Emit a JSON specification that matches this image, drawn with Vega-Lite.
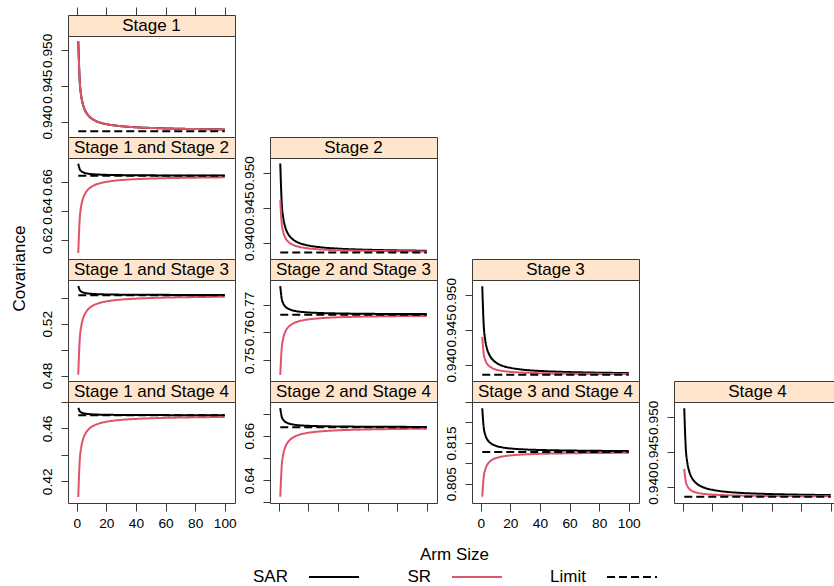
{
"$schema": "https://vega.github.io/schema/vega-lite/v6.json",
"padding": {"left": 9, "top": 6, "right": 0, "bottom": 0},
"datasets": {
"curves": [
{"p":"P11","s":"SAR","n":1,"v":0.9513},{"p":"P11","s":"SAR","n":2,"v":0.94569},{"p":"P11","s":"SAR","n":3,"v":0.94365},{"p":"P11","s":"SAR","n":4,"v":0.94258},{"p":"P11","s":"SAR","n":5,"v":0.94191},{"p":"P11","s":"SAR","n":6,"v":0.94145},{"p":"P11","s":"SAR","n":8,"v":0.94085},{"p":"P11","s":"SAR","n":10,"v":0.94048},{"p":"P11","s":"SAR","n":13,"v":0.94012},{"p":"P11","s":"SAR","n":16,"v":0.93989},{"p":"P11","s":"SAR","n":20,"v":0.93969},{"p":"P11","s":"SAR","n":25,"v":0.93952},{"p":"P11","s":"SAR","n":30,"v":0.9394},{"p":"P11","s":"SAR","n":40,"v":0.93925},{"p":"P11","s":"SAR","n":55,"v":0.93912},{"p":"P11","s":"SAR","n":75,"v":0.93902},{"p":"P11","s":"SAR","n":100,"v":0.93895},
{"p":"P11","s":"SR","n":1,"v":0.9513},{"p":"P11","s":"SR","n":2,"v":0.94569},{"p":"P11","s":"SR","n":3,"v":0.94365},{"p":"P11","s":"SR","n":4,"v":0.94258},{"p":"P11","s":"SR","n":5,"v":0.94191},{"p":"P11","s":"SR","n":6,"v":0.94145},{"p":"P11","s":"SR","n":8,"v":0.94085},{"p":"P11","s":"SR","n":10,"v":0.94048},{"p":"P11","s":"SR","n":13,"v":0.94012},{"p":"P11","s":"SR","n":16,"v":0.93989},{"p":"P11","s":"SR","n":20,"v":0.93969},{"p":"P11","s":"SR","n":25,"v":0.93952},{"p":"P11","s":"SR","n":30,"v":0.9394},{"p":"P11","s":"SR","n":40,"v":0.93925},{"p":"P11","s":"SR","n":55,"v":0.93912},{"p":"P11","s":"SR","n":75,"v":0.93902},{"p":"P11","s":"SR","n":100,"v":0.93895},
{"p":"P11","s":"Limit","n":1,"v":0.9387},{"p":"P11","s":"Limit","n":100,"v":0.9387},
{"p":"P12","s":"SAR","n":1,"v":0.6724},{"p":"P12","s":"SAR","n":2,"v":0.66875},{"p":"P12","s":"SAR","n":3,"v":0.66742},{"p":"P12","s":"SAR","n":4,"v":0.66672},{"p":"P12","s":"SAR","n":5,"v":0.66629},{"p":"P12","s":"SAR","n":6,"v":0.66599},{"p":"P12","s":"SAR","n":8,"v":0.6656},{"p":"P12","s":"SAR","n":10,"v":0.66536},{"p":"P12","s":"SAR","n":13,"v":0.66513},{"p":"P12","s":"SAR","n":16,"v":0.66498},{"p":"P12","s":"SAR","n":20,"v":0.66484},{"p":"P12","s":"SAR","n":25,"v":0.66473},{"p":"P12","s":"SAR","n":30,"v":0.66466},{"p":"P12","s":"SAR","n":40,"v":0.66456},{"p":"P12","s":"SAR","n":55,"v":0.66447},{"p":"P12","s":"SAR","n":75,"v":0.66441},{"p":"P12","s":"SAR","n":100,"v":0.66436},
{"p":"P12","s":"SR","n":1,"v":0.6112},{"p":"P12","s":"SR","n":2,"v":0.6348},{"p":"P12","s":"SR","n":3,"v":0.64337},{"p":"P12","s":"SR","n":4,"v":0.64789},{"p":"P12","s":"SR","n":5,"v":0.65071},{"p":"P12","s":"SR","n":6,"v":0.65264},{"p":"P12","s":"SR","n":8,"v":0.65515},{"p":"P12","s":"SR","n":10,"v":0.65671},{"p":"P12","s":"SR","n":13,"v":0.65821},{"p":"P12","s":"SR","n":16,"v":0.65918},{"p":"P12","s":"SR","n":20,"v":0.66004},{"p":"P12","s":"SR","n":25,"v":0.66077},{"p":"P12","s":"SR","n":30,"v":0.66126},{"p":"P12","s":"SR","n":40,"v":0.66189},{"p":"P12","s":"SR","n":55,"v":0.66244},{"p":"P12","s":"SR","n":75,"v":0.66285},{"p":"P12","s":"SR","n":100,"v":0.66314},
{"p":"P12","s":"Limit","n":1,"v":0.6642},{"p":"P12","s":"Limit","n":100,"v":0.6642},
{"p":"P13","s":"SAR","n":1,"v":0.5492},{"p":"P13","s":"SAR","n":2,"v":0.54604},{"p":"P13","s":"SAR","n":3,"v":0.54489},{"p":"P13","s":"SAR","n":4,"v":0.54429},{"p":"P13","s":"SAR","n":5,"v":0.54391},{"p":"P13","s":"SAR","n":6,"v":0.54365},{"p":"P13","s":"SAR","n":8,"v":0.54331},{"p":"P13","s":"SAR","n":10,"v":0.5431},{"p":"P13","s":"SAR","n":13,"v":0.5429},{"p":"P13","s":"SAR","n":16,"v":0.54277},{"p":"P13","s":"SAR","n":20,"v":0.54266},{"p":"P13","s":"SAR","n":25,"v":0.54256},{"p":"P13","s":"SAR","n":30,"v":0.54249},{"p":"P13","s":"SAR","n":40,"v":0.54241},{"p":"P13","s":"SAR","n":55,"v":0.54234},{"p":"P13","s":"SAR","n":75,"v":0.54228},{"p":"P13","s":"SAR","n":100,"v":0.54224},
{"p":"P13","s":"SR","n":1,"v":0.4806},{"p":"P13","s":"SR","n":2,"v":0.50798},{"p":"P13","s":"SR","n":3,"v":0.51792},{"p":"P13","s":"SR","n":4,"v":0.52317},{"p":"P13","s":"SR","n":5,"v":0.52644},{"p":"P13","s":"SR","n":6,"v":0.52869},{"p":"P13","s":"SR","n":8,"v":0.5316},{"p":"P13","s":"SR","n":10,"v":0.53341},{"p":"P13","s":"SR","n":13,"v":0.53515},{"p":"P13","s":"SR","n":16,"v":0.53628},{"p":"P13","s":"SR","n":20,"v":0.53728},{"p":"P13","s":"SR","n":25,"v":0.53811},{"p":"P13","s":"SR","n":30,"v":0.53869},{"p":"P13","s":"SR","n":40,"v":0.53942},{"p":"P13","s":"SR","n":55,"v":0.54006},{"p":"P13","s":"SR","n":75,"v":0.54053},{"p":"P13","s":"SR","n":100,"v":0.54087},
{"p":"P13","s":"Limit","n":1,"v":0.5421},{"p":"P13","s":"Limit","n":100,"v":0.5421},
{"p":"P14","s":"SAR","n":1,"v":0.4755},{"p":"P14","s":"SAR","n":2,"v":0.47301},{"p":"P14","s":"SAR","n":3,"v":0.4721},{"p":"P14","s":"SAR","n":4,"v":0.47162},{"p":"P14","s":"SAR","n":5,"v":0.47133},{"p":"P14","s":"SAR","n":6,"v":0.47112},{"p":"P14","s":"SAR","n":8,"v":0.47086},{"p":"P14","s":"SAR","n":10,"v":0.47069},{"p":"P14","s":"SAR","n":13,"v":0.47053},{"p":"P14","s":"SAR","n":16,"v":0.47043},{"p":"P14","s":"SAR","n":20,"v":0.47034},{"p":"P14","s":"SAR","n":25,"v":0.47026},{"p":"P14","s":"SAR","n":30,"v":0.47021},{"p":"P14","s":"SAR","n":40,"v":0.47014},{"p":"P14","s":"SAR","n":55,"v":0.47009},{"p":"P14","s":"SAR","n":75,"v":0.47004},{"p":"P14","s":"SAR","n":100,"v":0.47001},
{"p":"P14","s":"SR","n":1,"v":0.4082},{"p":"P14","s":"SR","n":2,"v":0.43567},{"p":"P14","s":"SR","n":3,"v":0.44565},{"p":"P14","s":"SR","n":4,"v":0.45091},{"p":"P14","s":"SR","n":5,"v":0.45419},{"p":"P14","s":"SR","n":6,"v":0.45644},{"p":"P14","s":"SR","n":8,"v":0.45936},{"p":"P14","s":"SR","n":10,"v":0.46118},{"p":"P14","s":"SR","n":13,"v":0.46293},{"p":"P14","s":"SR","n":16,"v":0.46406},{"p":"P14","s":"SR","n":20,"v":0.46506},{"p":"P14","s":"SR","n":25,"v":0.4659},{"p":"P14","s":"SR","n":30,"v":0.46648},{"p":"P14","s":"SR","n":40,"v":0.46722},{"p":"P14","s":"SR","n":55,"v":0.46785},{"p":"P14","s":"SR","n":75,"v":0.46833},{"p":"P14","s":"SR","n":100,"v":0.46867},
{"p":"P14","s":"Limit","n":1,"v":0.4699},{"p":"P14","s":"Limit","n":100,"v":0.4699},
{"p":"P22","s":"SAR","n":1,"v":0.9513},{"p":"P22","s":"SAR","n":2,"v":0.94569},{"p":"P22","s":"SAR","n":3,"v":0.94365},{"p":"P22","s":"SAR","n":4,"v":0.94258},{"p":"P22","s":"SAR","n":5,"v":0.94191},{"p":"P22","s":"SAR","n":6,"v":0.94145},{"p":"P22","s":"SAR","n":8,"v":0.94085},{"p":"P22","s":"SAR","n":10,"v":0.94048},{"p":"P22","s":"SAR","n":13,"v":0.94012},{"p":"P22","s":"SAR","n":16,"v":0.93989},{"p":"P22","s":"SAR","n":20,"v":0.93969},{"p":"P22","s":"SAR","n":25,"v":0.93952},{"p":"P22","s":"SAR","n":30,"v":0.9394},{"p":"P22","s":"SAR","n":40,"v":0.93925},{"p":"P22","s":"SAR","n":55,"v":0.93912},{"p":"P22","s":"SAR","n":75,"v":0.93902},{"p":"P22","s":"SAR","n":100,"v":0.93895},
{"p":"P22","s":"SR","n":1,"v":0.9461},{"p":"P22","s":"SR","n":2,"v":0.94281},{"p":"P22","s":"SR","n":3,"v":0.94161},{"p":"P22","s":"SR","n":4,"v":0.94098},{"p":"P22","s":"SR","n":5,"v":0.94058},{"p":"P22","s":"SR","n":6,"v":0.94031},{"p":"P22","s":"SR","n":8,"v":0.93996},{"p":"P22","s":"SR","n":10,"v":0.93975},{"p":"P22","s":"SR","n":13,"v":0.93954},{"p":"P22","s":"SR","n":16,"v":0.9394},{"p":"P22","s":"SR","n":20,"v":0.93928},{"p":"P22","s":"SR","n":25,"v":0.93918},{"p":"P22","s":"SR","n":30,"v":0.93911},{"p":"P22","s":"SR","n":40,"v":0.93902},{"p":"P22","s":"SR","n":55,"v":0.93895},{"p":"P22","s":"SR","n":75,"v":0.93889},{"p":"P22","s":"SR","n":100,"v":0.93885},
{"p":"P22","s":"Limit","n":1,"v":0.9387},{"p":"P22","s":"Limit","n":100,"v":0.9387},
{"p":"P23","s":"SAR","n":1,"v":0.7767},{"p":"P23","s":"SAR","n":2,"v":0.77211},{"p":"P23","s":"SAR","n":3,"v":0.77045},{"p":"P23","s":"SAR","n":4,"v":0.76957},{"p":"P23","s":"SAR","n":5,"v":0.76902},{"p":"P23","s":"SAR","n":6,"v":0.76865},{"p":"P23","s":"SAR","n":8,"v":0.76816},{"p":"P23","s":"SAR","n":10,"v":0.76786},{"p":"P23","s":"SAR","n":13,"v":0.76756},{"p":"P23","s":"SAR","n":16,"v":0.76738},{"p":"P23","s":"SAR","n":20,"v":0.76721},{"p":"P23","s":"SAR","n":25,"v":0.76707},{"p":"P23","s":"SAR","n":30,"v":0.76697},{"p":"P23","s":"SAR","n":40,"v":0.76685},{"p":"P23","s":"SAR","n":55,"v":0.76674},{"p":"P23","s":"SAR","n":75,"v":0.76666},{"p":"P23","s":"SAR","n":100,"v":0.76661},
{"p":"P23","s":"SR","n":1,"v":0.7447},{"p":"P23","s":"SR","n":2,"v":0.75436},{"p":"P23","s":"SR","n":3,"v":0.75787},{"p":"P23","s":"SR","n":4,"v":0.75972},{"p":"P23","s":"SR","n":5,"v":0.76088},{"p":"P23","s":"SR","n":6,"v":0.76167},{"p":"P23","s":"SR","n":8,"v":0.76269},{"p":"P23","s":"SR","n":10,"v":0.76333},{"p":"P23","s":"SR","n":13,"v":0.76395},{"p":"P23","s":"SR","n":16,"v":0.76435},{"p":"P23","s":"SR","n":20,"v":0.7647},{"p":"P23","s":"SR","n":25,"v":0.76499},{"p":"P23","s":"SR","n":30,"v":0.7652},{"p":"P23","s":"SR","n":40,"v":0.76546},{"p":"P23","s":"SR","n":55,"v":0.76568},{"p":"P23","s":"SR","n":75,"v":0.76585},{"p":"P23","s":"SR","n":100,"v":0.76597},
{"p":"P23","s":"Limit","n":1,"v":0.7664},{"p":"P23","s":"Limit","n":100,"v":0.7664},
{"p":"P24","s":"SAR","n":1,"v":0.6724},{"p":"P24","s":"SAR","n":2,"v":0.66857},{"p":"P24","s":"SAR","n":3,"v":0.66718},{"p":"P24","s":"SAR","n":4,"v":0.66645},{"p":"P24","s":"SAR","n":5,"v":0.66599},{"p":"P24","s":"SAR","n":6,"v":0.66568},{"p":"P24","s":"SAR","n":8,"v":0.66527},{"p":"P24","s":"SAR","n":10,"v":0.66502},{"p":"P24","s":"SAR","n":13,"v":0.66477},{"p":"P24","s":"SAR","n":16,"v":0.66461},{"p":"P24","s":"SAR","n":20,"v":0.66447},{"p":"P24","s":"SAR","n":25,"v":0.66436},{"p":"P24","s":"SAR","n":30,"v":0.66428},{"p":"P24","s":"SAR","n":40,"v":0.66417},{"p":"P24","s":"SAR","n":55,"v":0.66409},{"p":"P24","s":"SAR","n":75,"v":0.66402},{"p":"P24","s":"SAR","n":100,"v":0.66397},
{"p":"P24","s":"SR","n":1,"v":0.6325},{"p":"P24","s":"SR","n":2,"v":0.64643},{"p":"P24","s":"SR","n":3,"v":0.6515},{"p":"P24","s":"SR","n":4,"v":0.65417},{"p":"P24","s":"SR","n":5,"v":0.65583},{"p":"P24","s":"SR","n":6,"v":0.65697},{"p":"P24","s":"SR","n":8,"v":0.65845},{"p":"P24","s":"SR","n":10,"v":0.65938},{"p":"P24","s":"SR","n":13,"v":0.66026},{"p":"P24","s":"SR","n":16,"v":0.66084},{"p":"P24","s":"SR","n":20,"v":0.66135},{"p":"P24","s":"SR","n":25,"v":0.66177},{"p":"P24","s":"SR","n":30,"v":0.66206},{"p":"P24","s":"SR","n":40,"v":0.66244},{"p":"P24","s":"SR","n":55,"v":0.66276},{"p":"P24","s":"SR","n":75,"v":0.663},{"p":"P24","s":"SR","n":100,"v":0.66317},
{"p":"P24","s":"Limit","n":1,"v":0.6638},{"p":"P24","s":"Limit","n":100,"v":0.6638},
{"p":"P33","s":"SAR","n":1,"v":0.9512},{"p":"P33","s":"SAR","n":2,"v":0.94559},{"p":"P33","s":"SAR","n":3,"v":0.94355},{"p":"P33","s":"SAR","n":4,"v":0.94248},{"p":"P33","s":"SAR","n":5,"v":0.94181},{"p":"P33","s":"SAR","n":6,"v":0.94135},{"p":"P33","s":"SAR","n":8,"v":0.94075},{"p":"P33","s":"SAR","n":10,"v":0.94038},{"p":"P33","s":"SAR","n":13,"v":0.94002},{"p":"P33","s":"SAR","n":16,"v":0.93979},{"p":"P33","s":"SAR","n":20,"v":0.93959},{"p":"P33","s":"SAR","n":25,"v":0.93942},{"p":"P33","s":"SAR","n":30,"v":0.9393},{"p":"P33","s":"SAR","n":40,"v":0.93915},{"p":"P33","s":"SAR","n":55,"v":0.93902},{"p":"P33","s":"SAR","n":75,"v":0.93892},{"p":"P33","s":"SAR","n":100,"v":0.93885},
{"p":"P33","s":"SR","n":1,"v":0.944},{"p":"P33","s":"SR","n":2,"v":0.9416},{"p":"P33","s":"SR","n":3,"v":0.94072},{"p":"P33","s":"SR","n":4,"v":0.94026},{"p":"P33","s":"SR","n":5,"v":0.93997},{"p":"P33","s":"SR","n":6,"v":0.93978},{"p":"P33","s":"SR","n":8,"v":0.93952},{"p":"P33","s":"SR","n":10,"v":0.93936},{"p":"P33","s":"SR","n":13,"v":0.93921},{"p":"P33","s":"SR","n":16,"v":0.93911},{"p":"P33","s":"SR","n":20,"v":0.93902},{"p":"P33","s":"SR","n":25,"v":0.93895},{"p":"P33","s":"SR","n":30,"v":0.9389},{"p":"P33","s":"SR","n":40,"v":0.93883},{"p":"P33","s":"SR","n":55,"v":0.93878},{"p":"P33","s":"SR","n":75,"v":0.93874},{"p":"P33","s":"SR","n":100,"v":0.93871},
{"p":"P33","s":"Limit","n":1,"v":0.9386},{"p":"P33","s":"Limit","n":100,"v":0.9386},
{"p":"P34","s":"SAR","n":1,"v":0.8235},{"p":"P34","s":"SAR","n":2,"v":0.81874},{"p":"P34","s":"SAR","n":3,"v":0.81701},{"p":"P34","s":"SAR","n":4,"v":0.81609},{"p":"P34","s":"SAR","n":5,"v":0.81552},{"p":"P34","s":"SAR","n":6,"v":0.81513},{"p":"P34","s":"SAR","n":8,"v":0.81463},{"p":"P34","s":"SAR","n":10,"v":0.81431},{"p":"P34","s":"SAR","n":13,"v":0.81401},{"p":"P34","s":"SAR","n":16,"v":0.81381},{"p":"P34","s":"SAR","n":20,"v":0.81364},{"p":"P34","s":"SAR","n":25,"v":0.81349},{"p":"P34","s":"SAR","n":30,"v":0.81339},{"p":"P34","s":"SAR","n":40,"v":0.81327},{"p":"P34","s":"SAR","n":55,"v":0.81316},{"p":"P34","s":"SAR","n":75,"v":0.81307},{"p":"P34","s":"SAR","n":100,"v":0.81301},
{"p":"P34","s":"SR","n":1,"v":0.8018},{"p":"P34","s":"SR","n":2,"v":0.8067},{"p":"P34","s":"SR","n":3,"v":0.80848},{"p":"P34","s":"SR","n":4,"v":0.80941},{"p":"P34","s":"SR","n":5,"v":0.81},{"p":"P34","s":"SR","n":6,"v":0.8104},{"p":"P34","s":"SR","n":8,"v":0.81092},{"p":"P34","s":"SR","n":10,"v":0.81125},{"p":"P34","s":"SR","n":13,"v":0.81156},{"p":"P34","s":"SR","n":16,"v":0.81176},{"p":"P34","s":"SR","n":20,"v":0.81194},{"p":"P34","s":"SR","n":25,"v":0.81209},{"p":"P34","s":"SR","n":30,"v":0.81219},{"p":"P34","s":"SR","n":40,"v":0.81232},{"p":"P34","s":"SR","n":55,"v":0.81243},{"p":"P34","s":"SR","n":75,"v":0.81252},{"p":"P34","s":"SR","n":100,"v":0.81258},
{"p":"P34","s":"Limit","n":1,"v":0.8128},{"p":"P34","s":"Limit","n":100,"v":0.8128},
{"p":"P44","s":"SAR","n":1,"v":0.9513},{"p":"P44","s":"SAR","n":2,"v":0.94565},{"p":"P44","s":"SAR","n":3,"v":0.94359},{"p":"P44","s":"SAR","n":4,"v":0.94251},{"p":"P44","s":"SAR","n":5,"v":0.94183},{"p":"P44","s":"SAR","n":6,"v":0.94137},{"p":"P44","s":"SAR","n":8,"v":0.94077},{"p":"P44","s":"SAR","n":10,"v":0.94039},{"p":"P44","s":"SAR","n":13,"v":0.94004},{"p":"P44","s":"SAR","n":16,"v":0.9398},{"p":"P44","s":"SAR","n":20,"v":0.9396},{"p":"P44","s":"SAR","n":25,"v":0.93942},{"p":"P44","s":"SAR","n":30,"v":0.9393},{"p":"P44","s":"SAR","n":40,"v":0.93915},{"p":"P44","s":"SAR","n":55,"v":0.93902},{"p":"P44","s":"SAR","n":75,"v":0.93892},{"p":"P44","s":"SAR","n":100,"v":0.93885},
{"p":"P44","s":"SR","n":1,"v":0.9426},{"p":"P44","s":"SR","n":2,"v":0.94082},{"p":"P44","s":"SR","n":3,"v":0.94017},{"p":"P44","s":"SR","n":4,"v":0.93983},{"p":"P44","s":"SR","n":5,"v":0.93962},{"p":"P44","s":"SR","n":6,"v":0.93947},{"p":"P44","s":"SR","n":8,"v":0.93928},{"p":"P44","s":"SR","n":10,"v":0.93917},{"p":"P44","s":"SR","n":13,"v":0.93905},{"p":"P44","s":"SR","n":16,"v":0.93898},{"p":"P44","s":"SR","n":20,"v":0.93891},{"p":"P44","s":"SR","n":25,"v":0.93886},{"p":"P44","s":"SR","n":30,"v":0.93882},{"p":"P44","s":"SR","n":40,"v":0.93877},{"p":"P44","s":"SR","n":55,"v":0.93873},{"p":"P44","s":"SR","n":75,"v":0.9387},{"p":"P44","s":"SR","n":100,"v":0.93868},
{"p":"P44","s":"Limit","n":1,"v":0.9386},{"p":"P44","s":"Limit","n":100,"v":0.9386}
]
},
"columns": 4,
"spacing": {"row": 0, "column": 35},
"bounds": "flush",
"align": "each",
"concat": [
 {"width":167,"height":21,"view":{"fill":"#FFE5CC","stroke":"#3a3a3a"},"data":{"values":[{"label":"Stage 1"}]},"mark":{"type":"text","fontSize":17},
  "encoding":{"x":{"datum":50.5,"type":"quantitative","scale":{"domain":[-5.93,106.93],"nice":false,"zero":false},"axis":{"orient":"top","values":[0,20,40,60,80,100],"labels":false,"tickSize":8,"title":null}},"text":{"field":"label","type":"nominal"}}},
 {"width":167,"height":21,"view":{"stroke":null},"data":{"values":[{"label":""}]},"mark":"text","encoding":{"text":{"field":"label","type":"nominal"}}},
 {"width":167,"height":21,"view":{"stroke":null},"data":{"values":[{"label":""}]},"mark":"text","encoding":{"text":{"field":"label","type":"nominal"}}},
 {"width":167,"height":21,"view":{"stroke":null},"data":{"values":[{"label":""}]},"mark":"text","encoding":{"text":{"field":"label","type":"nominal"}}},

 {"width":167,"height":101,"data":{"name":"curves"},"transform":[{"filter":"datum.p==='P11'"}],
  "encoding":{
   "x":{"field":"n","type":"quantitative","scale":{"domain":[-5.93,106.93],"nice":false,"zero":false},"axis":null},
   "y":{"field":"v","type":"quantitative","scale":{"domain":[0.93789,0.95201],"nice":false,"zero":false},"axis":{"values":[0.94,0.945,0.95],"format":".3f","title":null}},
   "color":{"field":"s","type":"nominal","scale":{"domain":["SAR","SR","Limit"],"range":["#000000","#DF536B","#000000"]},"legend":{"title":null}},
   "strokeDash":{"field":"s","type":"nominal","scale":{"domain":["SAR","SR","Limit"],"range":[[1,0],[1,0],[8,4]]},"legend":{"title":null}}},
  "layer":[
   {"transform":[{"filter":"datum.s==='SAR'"}],"mark":{"type":"line","strokeWidth":2,"interpolate":"monotone"}},
   {"transform":[{"filter":"datum.s==='SR'"}],"mark":{"type":"line","strokeWidth":2,"interpolate":"monotone"}},
   {"transform":[{"filter":"datum.s==='Limit'"}],"mark":{"type":"line","strokeWidth":2}}]},
 {"width":167,"height":101,"view":{"stroke":null},"data":{"values":[{"label":""}]},"mark":"text","encoding":{"text":{"field":"label","type":"nominal"}}},
 {"width":167,"height":101,"view":{"stroke":null},"data":{"values":[{"label":""}]},"mark":"text","encoding":{"text":{"field":"label","type":"nominal"}}},
 {"width":167,"height":101,"view":{"stroke":null},"data":{"values":[{"label":""}]},"mark":"text","encoding":{"text":{"field":"label","type":"nominal"}}},

 {"width":167,"height":21,"view":{"fill":"#FFE5CC","stroke":"#3a3a3a"},"data":{"values":[{"label":"Stage 1 and Stage 2"}]},"mark":{"type":"text","fontSize":17},"encoding":{"text":{"field":"label","type":"nominal"}}},
 {"width":167,"height":21,"view":{"fill":"#FFE5CC","stroke":"#3a3a3a"},"data":{"values":[{"label":"Stage 2"}]},"mark":{"type":"text","fontSize":17},"encoding":{"text":{"field":"label","type":"nominal"}}},
 {"width":167,"height":21,"view":{"stroke":null},"data":{"values":[{"label":""}]},"mark":"text","encoding":{"text":{"field":"label","type":"nominal"}}},
 {"width":167,"height":21,"view":{"stroke":null},"data":{"values":[{"label":""}]},"mark":"text","encoding":{"text":{"field":"label","type":"nominal"}}},

 {"width":167,"height":101,"data":{"name":"curves"},"transform":[{"filter":"datum.p==='P12'"}],
  "encoding":{
   "x":{"field":"n","type":"quantitative","scale":{"domain":[-5.93,106.93],"nice":false,"zero":false},"axis":null},
   "y":{"field":"v","type":"quantitative","scale":{"domain":[0.6071,0.6764],"nice":false,"zero":false},"axis":{"values":[0.62,0.64,0.66],"format":".2f","title":"Covariance","titleX":-44,"titleY":110,"titleBaseline":"alphabetic","titleAngle":270}},
   "color":{"field":"s","type":"nominal","scale":{"domain":["SAR","SR","Limit"],"range":["#000000","#DF536B","#000000"]},"legend":{"title":null}},
   "strokeDash":{"field":"s","type":"nominal","scale":{"domain":["SAR","SR","Limit"],"range":[[1,0],[1,0],[8,4]]},"legend":{"title":null}}},
  "layer":[
   {"transform":[{"filter":"datum.s==='SAR'"}],"mark":{"type":"line","strokeWidth":2,"interpolate":"monotone"}},
   {"transform":[{"filter":"datum.s==='SR'"}],"mark":{"type":"line","strokeWidth":2,"interpolate":"monotone"}},
   {"transform":[{"filter":"datum.s==='Limit'"}],"mark":{"type":"line","strokeWidth":2}}]},
 {"width":167,"height":101,"data":{"name":"curves"},"transform":[{"filter":"datum.p==='P22'"}],
  "encoding":{
   "x":{"field":"n","type":"quantitative","scale":{"domain":[-5.93,106.93],"nice":false,"zero":false},"axis":null},
   "y":{"field":"v","type":"quantitative","scale":{"domain":[0.93778,0.95208],"nice":false,"zero":false},"axis":{"values":[0.94,0.945,0.95],"format":".3f","title":null}},
   "color":{"field":"s","type":"nominal","scale":{"domain":["SAR","SR","Limit"],"range":["#000000","#DF536B","#000000"]},"legend":{"title":null}},
   "strokeDash":{"field":"s","type":"nominal","scale":{"domain":["SAR","SR","Limit"],"range":[[1,0],[1,0],[8,4]]},"legend":{"title":null}}},
  "layer":[
   {"transform":[{"filter":"datum.s==='SAR'"}],"mark":{"type":"line","strokeWidth":2,"interpolate":"monotone"}},
   {"transform":[{"filter":"datum.s==='SR'"}],"mark":{"type":"line","strokeWidth":2,"interpolate":"monotone"}},
   {"transform":[{"filter":"datum.s==='Limit'"}],"mark":{"type":"line","strokeWidth":2}}]},
 {"width":167,"height":101,"view":{"stroke":null},"data":{"values":[{"label":""}]},"mark":"text","encoding":{"text":{"field":"label","type":"nominal"}}},
 {"width":167,"height":101,"view":{"stroke":null},"data":{"values":[{"label":""}]},"mark":"text","encoding":{"text":{"field":"label","type":"nominal"}}},

 {"width":167,"height":21,"view":{"fill":"#FFE5CC","stroke":"#3a3a3a"},"data":{"values":[{"label":"Stage 1 and Stage 3"}]},"mark":{"type":"text","fontSize":17},"encoding":{"text":{"field":"label","type":"nominal"}}},
 {"width":167,"height":21,"view":{"fill":"#FFE5CC","stroke":"#3a3a3a"},"data":{"values":[{"label":"Stage 2 and Stage 3"}]},"mark":{"type":"text","fontSize":17},"encoding":{"text":{"field":"label","type":"nominal"}}},
 {"width":167,"height":21,"view":{"fill":"#FFE5CC","stroke":"#3a3a3a"},"data":{"values":[{"label":"Stage 3"}]},"mark":{"type":"text","fontSize":17},"encoding":{"text":{"field":"label","type":"nominal"}}},
 {"width":167,"height":21,"view":{"stroke":null},"data":{"values":[{"label":""}]},"mark":"text","encoding":{"text":{"field":"label","type":"nominal"}}},

 {"width":167,"height":101,"data":{"name":"curves"},"transform":[{"filter":"datum.p==='P13'"}],
  "encoding":{
   "x":{"field":"n","type":"quantitative","scale":{"domain":[-5.93,106.93],"nice":false,"zero":false},"axis":null},
   "y":{"field":"v","type":"quantitative","scale":{"domain":[0.4758,0.5538],"nice":false,"zero":false},"axis":{"values":[0.48,0.5,0.52,0.54],"format":".2f","labelExpr":"datum.value == 0.48 || datum.value == 0.52 ? datum.label : ''","title":null}},
   "color":{"field":"s","type":"nominal","scale":{"domain":["SAR","SR","Limit"],"range":["#000000","#DF536B","#000000"]},"legend":{"title":null}},
   "strokeDash":{"field":"s","type":"nominal","scale":{"domain":["SAR","SR","Limit"],"range":[[1,0],[1,0],[8,4]]},"legend":{"title":null}}},
  "layer":[
   {"transform":[{"filter":"datum.s==='SAR'"}],"mark":{"type":"line","strokeWidth":2,"interpolate":"monotone"}},
   {"transform":[{"filter":"datum.s==='SR'"}],"mark":{"type":"line","strokeWidth":2,"interpolate":"monotone"}},
   {"transform":[{"filter":"datum.s==='Limit'"}],"mark":{"type":"line","strokeWidth":2}}]},
 {"width":167,"height":101,"data":{"name":"curves"},"transform":[{"filter":"datum.p==='P23'"}],
  "encoding":{
   "x":{"field":"n","type":"quantitative","scale":{"domain":[-5.93,106.93],"nice":false,"zero":false},"axis":null},
   "y":{"field":"v","type":"quantitative","scale":{"domain":[0.7425,0.7789],"nice":false,"zero":false},"axis":{"values":[0.75,0.76,0.77],"format":".2f","title":null}},
   "color":{"field":"s","type":"nominal","scale":{"domain":["SAR","SR","Limit"],"range":["#000000","#DF536B","#000000"]},"legend":{"title":null}},
   "strokeDash":{"field":"s","type":"nominal","scale":{"domain":["SAR","SR","Limit"],"range":[[1,0],[1,0],[8,4]]},"legend":{"title":null}}},
  "layer":[
   {"transform":[{"filter":"datum.s==='SAR'"}],"mark":{"type":"line","strokeWidth":2,"interpolate":"monotone"}},
   {"transform":[{"filter":"datum.s==='SR'"}],"mark":{"type":"line","strokeWidth":2,"interpolate":"monotone"}},
   {"transform":[{"filter":"datum.s==='Limit'"}],"mark":{"type":"line","strokeWidth":2}}]},
 {"width":167,"height":101,"data":{"name":"curves"},"transform":[{"filter":"datum.p==='P33'"}],
  "encoding":{
   "x":{"field":"n","type":"quantitative","scale":{"domain":[-5.93,106.93],"nice":false,"zero":false},"axis":null},
   "y":{"field":"v","type":"quantitative","scale":{"domain":[0.93772,0.95208],"nice":false,"zero":false},"axis":{"values":[0.94,0.945,0.95],"format":".3f","title":null}},
   "color":{"field":"s","type":"nominal","scale":{"domain":["SAR","SR","Limit"],"range":["#000000","#DF536B","#000000"]},"legend":{"title":null}},
   "strokeDash":{"field":"s","type":"nominal","scale":{"domain":["SAR","SR","Limit"],"range":[[1,0],[1,0],[8,4]]},"legend":{"title":null}}},
  "layer":[
   {"transform":[{"filter":"datum.s==='SAR'"}],"mark":{"type":"line","strokeWidth":2,"interpolate":"monotone"}},
   {"transform":[{"filter":"datum.s==='SR'"}],"mark":{"type":"line","strokeWidth":2,"interpolate":"monotone"}},
   {"transform":[{"filter":"datum.s==='Limit'"}],"mark":{"type":"line","strokeWidth":2}}]},
 {"width":167,"height":101,"view":{"stroke":null},"data":{"values":[{"label":""}]},"mark":"text","encoding":{"text":{"field":"label","type":"nominal"}}},

 {"width":167,"height":21,"view":{"fill":"#FFE5CC","stroke":"#3a3a3a"},"data":{"values":[{"label":"Stage 1 and Stage 4"}]},"mark":{"type":"text","fontSize":17},"encoding":{"text":{"field":"label","type":"nominal"}}},
 {"width":167,"height":21,"view":{"fill":"#FFE5CC","stroke":"#3a3a3a"},"data":{"values":[{"label":"Stage 2 and Stage 4"}]},"mark":{"type":"text","fontSize":17},"encoding":{"text":{"field":"label","type":"nominal"}}},
 {"width":167,"height":21,"view":{"fill":"#FFE5CC","stroke":"#3a3a3a"},"data":{"values":[{"label":"Stage 3 and Stage 4"}]},"mark":{"type":"text","fontSize":17},"encoding":{"text":{"field":"label","type":"nominal"}}},
 {"width":167,"height":21,"view":{"fill":"#FFE5CC","stroke":"#3a3a3a"},"data":{"values":[{"label":"Stage 4"}]},"mark":{"type":"text","fontSize":17},"encoding":{"text":{"field":"label","type":"nominal"}}},

 {"width":167,"height":101,"data":{"name":"curves"},"transform":[{"filter":"datum.p==='P14'"}],
  "encoding":{
   "x":{"field":"n","type":"quantitative","scale":{"domain":[-5.93,106.93],"nice":false,"zero":false},"axis":{"values":[0,20,40,60,80,100],"title":null}},
   "y":{"field":"v","type":"quantitative","scale":{"domain":[0.4036,0.48],"nice":false,"zero":false},"axis":{"values":[0.42,0.44,0.46,0.48],"format":".2f","labelExpr":"datum.value == 0.42 || datum.value == 0.46 ? datum.label : ''","title":null}},
   "color":{"field":"s","type":"nominal","scale":{"domain":["SAR","SR","Limit"],"range":["#000000","#DF536B","#000000"]},"legend":{"title":null}},
   "strokeDash":{"field":"s","type":"nominal","scale":{"domain":["SAR","SR","Limit"],"range":[[1,0],[1,0],[8,4]]},"legend":{"title":null}}},
  "layer":[
   {"transform":[{"filter":"datum.s==='SAR'"}],"mark":{"type":"line","strokeWidth":2,"interpolate":"monotone"}},
   {"transform":[{"filter":"datum.s==='SR'"}],"mark":{"type":"line","strokeWidth":2,"interpolate":"monotone"}},
   {"transform":[{"filter":"datum.s==='Limit'"}],"mark":{"type":"line","strokeWidth":2}}]},
 {"width":167,"height":101,"data":{"name":"curves"},"transform":[{"filter":"datum.p==='P24'"}],
  "encoding":{
   "x":{"field":"n","type":"quantitative","scale":{"domain":[-5.93,106.93],"nice":false,"zero":false},"axis":{"values":[0,20,40,60,80,100],"labels":false,"title":"Arm Size","titleX":184,"titleY":56,"titleBaseline":"alphabetic"}},
   "y":{"field":"v","type":"quantitative","scale":{"domain":[0.6297,0.6752],"nice":false,"zero":false},"axis":{"values":[0.63,0.64,0.65,0.66,0.67],"format":".2f","labelExpr":"datum.value == 0.64 || datum.value == 0.66 ? datum.label : ''","title":null}},
   "color":{"field":"s","type":"nominal","scale":{"domain":["SAR","SR","Limit"],"range":["#000000","#DF536B","#000000"]},"legend":{"title":null}},
   "strokeDash":{"field":"s","type":"nominal","scale":{"domain":["SAR","SR","Limit"],"range":[[1,0],[1,0],[8,4]]},"legend":{"title":null}}},
  "layer":[
   {"transform":[{"filter":"datum.s==='SAR'"}],"mark":{"type":"line","strokeWidth":2,"interpolate":"monotone"}},
   {"transform":[{"filter":"datum.s==='SR'"}],"mark":{"type":"line","strokeWidth":2,"interpolate":"monotone"}},
   {"transform":[{"filter":"datum.s==='Limit'"}],"mark":{"type":"line","strokeWidth":2}}]},
 {"width":167,"height":101,"data":{"name":"curves"},"transform":[{"filter":"datum.p==='P34'"}],
  "encoding":{
   "x":{"field":"n","type":"quantitative","scale":{"domain":[-5.93,106.93],"nice":false,"zero":false},"axis":{"values":[0,20,40,60,80,100],"title":null}},
   "y":{"field":"v","type":"quantitative","scale":{"domain":[0.80028,0.82502],"nice":false,"zero":false},"axis":{"values":[0.805,0.81,0.815,0.82,0.825],"format":".3f","labelExpr":"datum.value == 0.805 || datum.value == 0.815 ? datum.label : ''","title":null}},
   "color":{"field":"s","type":"nominal","scale":{"domain":["SAR","SR","Limit"],"range":["#000000","#DF536B","#000000"]},"legend":{"title":null}},
   "strokeDash":{"field":"s","type":"nominal","scale":{"domain":["SAR","SR","Limit"],"range":[[1,0],[1,0],[8,4]]},"legend":{"title":null}}},
  "layer":[
   {"transform":[{"filter":"datum.s==='SAR'"}],"mark":{"type":"line","strokeWidth":2,"interpolate":"monotone"}},
   {"transform":[{"filter":"datum.s==='SR'"}],"mark":{"type":"line","strokeWidth":2,"interpolate":"monotone"}},
   {"transform":[{"filter":"datum.s==='Limit'"}],"mark":{"type":"line","strokeWidth":2}}]},
 {"width":167,"height":101,"data":{"name":"curves"},"transform":[{"filter":"datum.p==='P44'"}],
  "encoding":{
   "x":{"field":"n","type":"quantitative","scale":{"domain":[-5.93,106.93],"nice":false,"zero":false},"axis":{"values":[0,20,40,60,80,100],"labels":false,"title":null}},
   "y":{"field":"v","type":"quantitative","scale":{"domain":[0.93771,0.95219],"nice":false,"zero":false},"axis":{"values":[0.94,0.945,0.95],"format":".3f","title":null}},
   "color":{"field":"s","type":"nominal","scale":{"domain":["SAR","SR","Limit"],"range":["#000000","#DF536B","#000000"]},"legend":{"title":null}},
   "strokeDash":{"field":"s","type":"nominal","scale":{"domain":["SAR","SR","Limit"],"range":[[1,0],[1,0],[8,4]]},"legend":{"title":null}}},
  "layer":[
   {"transform":[{"filter":"datum.s==='SAR'"}],"mark":{"type":"line","strokeWidth":2,"interpolate":"monotone"}},
   {"transform":[{"filter":"datum.s==='SR'"}],"mark":{"type":"line","strokeWidth":2,"interpolate":"monotone"}},
   {"transform":[{"filter":"datum.s==='Limit'"}],"mark":{"type":"line","strokeWidth":2}}]}
],
"config": {
 "font": "Liberation Sans",
 "background": "#ffffff",
 "view": {"stroke": "#3a3a3a", "strokeWidth": 1},
 "axis": {"domain": false, "grid": false, "tickColor": "#3a3a3a", "tickWidth": 1, "labelColor": "#000000", "labelFont": "Liberation Sans", "labelFontSize": 13.7, "titleFont": "Liberation Sans", "titleFontSize": 17, "titleFontWeight": "normal", "titleColor": "#000000", "labelFlush": false, "labelOverlap": false, "labelBound": false},
 "axisX": {"tickSize": 8, "labelPadding": 5},
 "axisY": {"tickSize": 7, "labelAngle": 270, "labelAlign": "center", "labelBaseline": "alphabetic", "labelPadding": 9.5},
 "text": {"font": "Liberation Sans", "fontSize": 17, "color": "#000000"},
 "legend": {"orient": "none", "legendX": 240, "legendY": 536, "direction": "horizontal", "symbolType": "stroke", "symbolSize": 2500, "symbolStrokeWidth": 2, "labelFont": "Liberation Sans", "labelFontSize": 17, "labelColor": "#000000", "labelAlign": "right", "labelOffset": -72, "columnPadding": 44, "labelLimit": 300}
}
}
